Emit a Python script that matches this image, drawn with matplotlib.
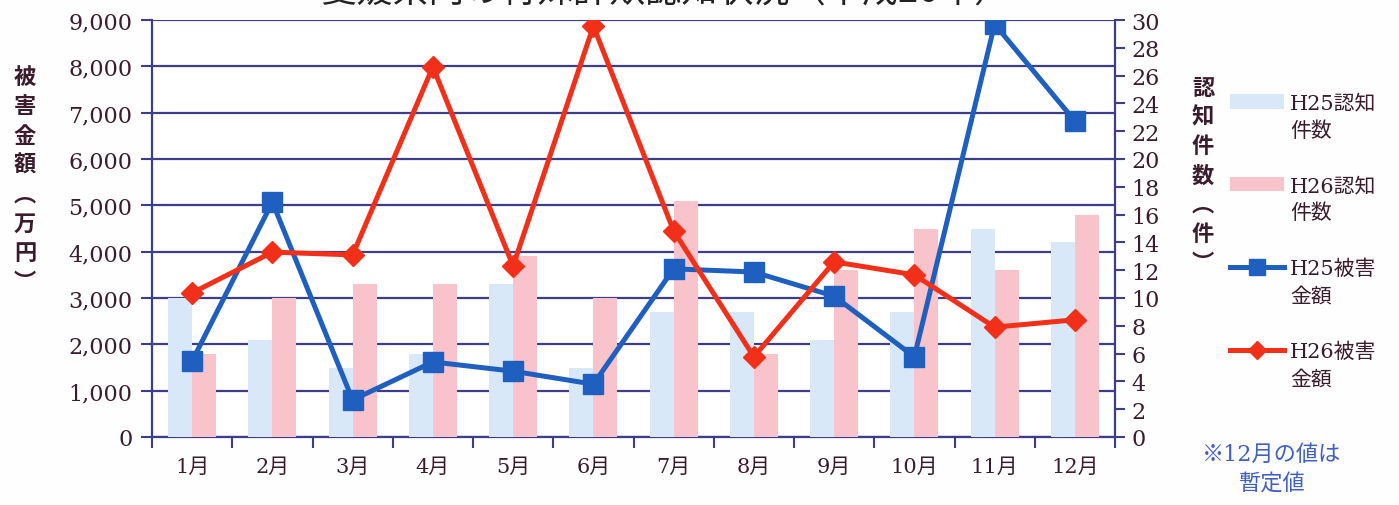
import matplotlib
matplotlib.use('Agg')
import matplotlib.pyplot as plt
from matplotlib.patches import Patch
from matplotlib.lines import Line2D
import numpy as np

plt.rcParams['font.family'] = ['DejaVu Serif', 'Noto Sans CJK JP']

# monthly data
months = ['1月', '2月', '3月', '4月', '5月', '6月',
          '7月', '8月', '9月', '10月', '11月', '12月']
h25_count = [10, 7, 5, 6, 11, 5, 9, 9, 7, 9, 15, 14]
h26_count = [6, 10, 11, 11, 13, 10, 17, 6, 12, 15, 12, 16]
h25_amount = [1640, 5070, 800, 1620, 1420, 1140, 3630, 3560, 3040, 1730, 8910, 6820]
h26_amount = [3110, 3990, 3930, 7990, 3690, 8870, 4450, 1730, 3780, 3500, 2370, 2530]

left_ticks = [0, 1000, 2000, 3000, 4000, 5000, 6000, 7000, 8000, 9000]
right_ticks = [0, 2, 4, 6, 8, 10, 12, 14, 16, 18, 20, 22, 24, 26, 28, 30]

navy = '#3d3d8a'
txt = '#3a1c2c'
c_h25bar = '#d8e8f8'
c_h26bar = '#f9c3cb'
c_blue = '#1f5fc0'
c_red = '#f2301a'
cjk = ['Noto Sans CJK JP', 'DejaVu Sans']

W, H = 1399, 506
fig = plt.figure(figsize=(W / 100, H / 100), dpi=100)
fig.patch.set_facecolor('#fefefe')

ax = fig.add_axes([152 / W, 1 - 438 / H, (1115 - 152) / W, (438 - 21) / H])
ax2 = ax.twinx()   # counts (bars)
ax3 = ax.twinx()   # amounts (lines), drawn on top

x = np.arange(len(months))
bw = 0.3

# base axis: amounts scale + grid
ax.set_xlim(-0.5, 11.5)
ax.set_ylim(0, 9000)
ax.set_yticks(left_ticks)
ax.set_yticklabels([f'{v:,}' for v in left_ticks])
ax.yaxis.grid(True, color=navy, lw=1.6)
ax.set_axisbelow(True)
ax.tick_params(axis='y', direction='out', length=8, width=1.5, color=navy,
               labelsize=16, labelcolor=txt, pad=6)
ax.set_xticks(x)
ax.set_xticklabels(months)
ax.set_xticks(np.arange(-0.5, 12, 1), minor=True)
ax.tick_params(axis='x', which='major', length=0, labelsize=15, labelcolor=txt, pad=14)
ax.tick_params(axis='x', which='minor', direction='out', length=8, width=1.5, color=navy)
for s in ['top', 'right']:
    ax.spines[s].set_visible(False)
for s in ['left', 'bottom']:
    ax.spines[s].set_color(navy)
    ax.spines[s].set_linewidth(1.6)

# bars on right axis
ax2.bar(x - bw / 2, h25_count, bw, color=c_h25bar, zorder=2)
ax2.bar(x + bw / 2, h26_count, bw, color=c_h26bar, zorder=2)
ax2.set_ylim(0, 30)
ax2.set_yticks(right_ticks)
ax2.tick_params(axis='y', direction='out', length=7, width=1.5, color=navy,
                labelsize=16, labelcolor=txt, pad=5)
for s in ['top', 'left', 'bottom']:
    ax2.spines[s].set_visible(False)
ax2.spines['right'].set_color(navy)
ax2.spines['right'].set_linewidth(1.6)

# lines on top
ax3.plot(x, h25_amount, color=c_blue, lw=3.6, marker='s', ms=14, zorder=3)
ax3.plot(x, h26_amount, color=c_red, lw=3.6, marker='D', ms=11, zorder=4)
ax3.set_ylim(0, 9000)
ax3.set_yticks([])
for s in ax3.spines.values():
    s.set_visible(False)

# axis labels (vertical, stacked)
fig.text(25 / W, 1 - 180 / H, '被\n害\n金\n額\n︵\n万\n円\n︶', ha='center', va='center',
         fontsize=16, fontweight='bold', color=txt, family=cjk, linespacing=1.35)
fig.text(1203 / W, 1 - 176 / H, '認\n知\n件\n数\n︵\n件\n︶', ha='center', va='center',
         fontsize=16, fontweight='bold', color=txt, family=cjk, linespacing=1.35)

# title (partly cut at top of the picture, as in the source)
fig.text(665 / W, 1 - 11 / H, '愛媛県内の特殊詐欺認知状況（平成26年）', ha='center', va='bottom',
         fontsize=26, color='#222222', family=cjk)

# legend
handles = [
    Patch(facecolor=c_h25bar, edgecolor='none'),
    Patch(facecolor=c_h26bar, edgecolor='none'),
    Line2D([], [], color=c_blue, lw=3.6, marker='s', ms=11),
    Line2D([], [], color=c_red, lw=3.6, marker='D', ms=9),
]
leg = ax3.legend(handles, ['H25認知', 'H26認知', 'H25被害', 'H26被害'],
                 loc='upper left', bbox_to_anchor=(1211 / W, 1 - 76 / H),
                 bbox_transform=fig.transFigure, frameon=False,
                 handlelength=2.6, handletextpad=0.3, labelspacing=3.05,
                 prop={'family': ['DejaVu Serif', 'Noto Sans CJK JP'], 'size': 15})
for t in leg.get_texts():
    t.set_color(txt)

fig.canvas.draw()
for t, second in zip(leg.get_texts(), ['件数', '件数', '金額', '金額']):
    bb = t.get_window_extent()
    fig.text(bb.x0 / W, (bb.y0 - 6) / H, second, ha='left', va='top',
             fontsize=15, color=txt, family=cjk)

# note
fig.text(1272 / W, 1 - 470 / H, '※12月の値は\n暫定値', ha='center', va='center',
         fontsize=16, color='#3f5fc4', family=['DejaVu Serif', 'Noto Sans CJK JP'],
         linespacing=1.45)

fig.savefig('out.png', dpi=100, facecolor=fig.get_facecolor())
